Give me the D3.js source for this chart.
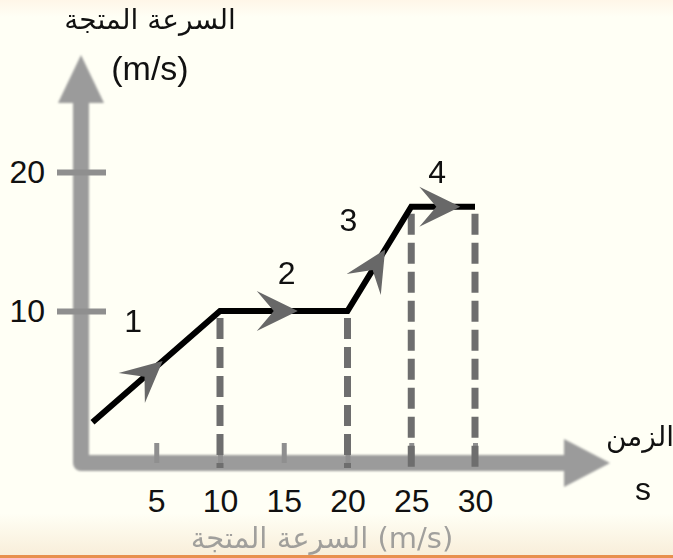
<!DOCTYPE html>
<html>
<head>
<meta charset="utf-8">
<script src="https://cdn.jsdelivr.net/npm/d3@7"></script>
<style>
  html, body { margin: 0; padding: 0; background: #fffff5; }
  svg { display: block; }
  text { font-family: "Liberation Sans", Arial, sans-serif; fill: #111; }
  .ar { font-family: "DejaVu Sans", sans-serif; }
</style>
</head>
<body>
<svg width="673" height="558"></svg>
<script>
// data
var timeTicks = [5, 10, 15, 20, 25, 30];          // s
var velocityTicks = [10, 20];                      // m/s
var times = [0, 10, 20, 25, 30];                   // s
var velocities = [2, 10, 10, 17.5, 17.5];          // m/s
var segmentLabels = ["1", "2", "3", "4"];
var dropTimes = [10, 20, 25, 30];                  // dashed guides

var svg = d3.select("svg"),
    W = +svg.attr("width"),
    H = +svg.attr("height");

var x = d3.scaleLinear().domain([0, 30]).range([92.5, 475]),
    y = d3.scaleLinear().domain([0, 20]).range([450, 172]);

var axisX = 81, axisY = 463;

var defs = svg.append("defs");
var bg = defs.append("linearGradient").attr("id", "bg")
    .attr("x1", 0).attr("y1", 0).attr("x2", 0).attr("y2", 1);
bg.append("stop").attr("offset", "0").attr("stop-color", "#fff6e8");
bg.append("stop").attr("offset", "0.03").attr("stop-color", "#fffff5");
bg.append("stop").attr("offset", "0.92").attr("stop-color", "#fffff5");
bg.append("stop").attr("offset", "1").attr("stop-color", "#f8edd8");
defs.append("filter").attr("id", "soft")
    .attr("x", "-20%").attr("y", "-20%").attr("width", "140%").attr("height", "140%")
  .append("feGaussianBlur").attr("stdDeviation", 1.1);
defs.append("filter").attr("id", "soft2")
  .append("feGaussianBlur").attr("stdDeviation", 0.6);

svg.append("rect").attr("width", W).attr("height", H).attr("fill", "url(#bg)");
svg.append("rect").attr("x", 0).attr("y", H - 3).attr("width", W).attr("height", 3)
    .attr("fill", "#e8904e");

// thick gray axes with arrow heads
var axes = svg.append("g").attr("filter", "url(#soft)");
axes.append("path")
    .attr("d", "M" + axisX + ",100 V" + axisY + " H567")
    .attr("fill", "none").attr("stroke", "#9b9b9b").attr("stroke-width", 16)
    .attr("stroke-linejoin", "round");
axes.append("path")
    .attr("d", "M" + axisX + ",55 L" + (axisX + 23) + ",103 L" + (axisX - 23) + ",103 Z")
    .attr("fill", "#9b9b9b");
axes.append("path")
    .attr("d", "M610," + axisY + " L564," + (axisY - 24) + " L564," + (axisY + 24) + " Z")
    .attr("fill", "#9b9b9b");

// axis ticks and labels
var xAxis = d3.axisBottom(x).tickValues(timeTicks)
    .tickSizeInner(-20).tickSizeOuter(0).tickPadding(26);
var gx = svg.append("g").attr("transform", "translate(0," + axisY + ")").call(xAxis);
gx.select(".domain").remove();
gx.selectAll(".tick line").attr("stroke", "#8f8f8f").attr("stroke-width", 5);
gx.selectAll(".tick text").attr("font-size", 32).attr("fill", "#111")
    .attr("font-family", "Liberation Sans, Arial, sans-serif");

var yAxis = d3.axisLeft(y).tickValues(velocityTicks)
    .tickSizeInner(24).tickSizeOuter(0).tickPadding(12);
var gy = svg.append("g").attr("transform", "translate(" + axisX + ",0)").call(yAxis);
gy.select(".domain").remove();
gy.selectAll(".tick line").attr("x2", -24).attr("x1", 25)
    .attr("stroke", "#8f8f8f").attr("stroke-width", 6);
gy.selectAll(".tick text").attr("font-size", 32).attr("fill", "#111")
    .attr("font-family", "Liberation Sans, Arial, sans-serif");

// dashed guides down to the time axis
var pts = times.map(function(t, i) { return {t: t, v: velocities[i]}; });
svg.append("g").attr("filter", "url(#soft2)").selectAll("line")
    .data(dropTimes)
    .enter().append("line")
    .attr("x1", function(d) { return x(d); })
    .attr("x2", function(d) { return x(d); })
    .attr("y1", function(d) { return y(velocities[times.indexOf(d)]) + 7; })
    .attr("y2", axisY + 5)
    .attr("stroke", "#6e6e6e").attr("stroke-width", 7)
    .attr("stroke-dasharray", "21 8");

// velocity line
var line = d3.line().x(function(d) { return x(d.t); }).y(function(d) { return y(d.v); });
svg.append("path").datum(pts)
    .attr("d", line)
    .attr("fill", "none").attr("stroke", "#050505").attr("stroke-width", 6)
    .attr("stroke-linejoin", "miter").attr("filter", "url(#soft2)");

// direction chevrons and segment numbers
var segs = d3.pairs(pts);
var arrowAt = [0.55, 0.61, 0.59, 0.77];
var labelOffset = [[-23, -46], [3, -39], [-31, -39], [-6, -35]];
svg.append("g").attr("filter", "url(#soft2)").selectAll("path")
    .data(segs)
    .enter().append("path")
    .attr("d", "M0,0 L-41,-20 L-24,0 L-41,20 Z")
    .attr("fill", "#686868")
    .attr("transform", function(d, i) {
      var x0 = x(d[0].t), y0 = y(d[0].v), x1 = x(d[1].t), y1 = y(d[1].v);
      var f = arrowAt[i];
      var a = Math.atan2(y1 - y0, x1 - x0) * 180 / Math.PI;
      return "translate(" + (x0 + f * (x1 - x0)) + "," + (y0 + f * (y1 - y0)) + ") rotate(" + a + ")";
    });

svg.append("g").selectAll("text")
    .data(segs)
    .enter().append("text")
    .attr("x", function(d, i) { return (x(d[0].t) + x(d[1].t)) / 2 + labelOffset[i][0]; })
    .attr("y", function(d, i) { return (y(d[0].v) + y(d[1].v)) / 2 + labelOffset[i][1]; })
    .attr("dy", "0.36em")
    .attr("text-anchor", "middle").attr("font-size", 32)
    .text(function(d, i) { return segmentLabels[i]; });

// axis titles
svg.append("text").attr("class", "ar").attr("x", 150).attr("y", 29)
    .attr("text-anchor", "middle").attr("font-size", 28).attr("direction", "rtl")
    .text("السرعة المتجة");
svg.append("text").attr("x", 150).attr("y", 80)
    .attr("text-anchor", "middle").attr("font-size", 34).text("(m/s)");
svg.append("text").attr("class", "ar").attr("x", 640).attr("y", 446)
    .attr("text-anchor", "middle").attr("font-size", 28).attr("direction", "rtl")
    .text("الزمن");
svg.append("text").attr("x", 643).attr("y", 500)
    .attr("text-anchor", "middle").attr("font-size", 32).text("s");

// faded caption at the bottom
svg.append("text").attr("class", "ar").attr("x", 322).attr("y", 548)
    .attr("text-anchor", "middle").attr("font-size", 29)
    .style("fill", "#8a8a8a").attr("opacity", 0.8)
    .text("السرعة المتجة (m/s)");
</script>
</body>
</html>
